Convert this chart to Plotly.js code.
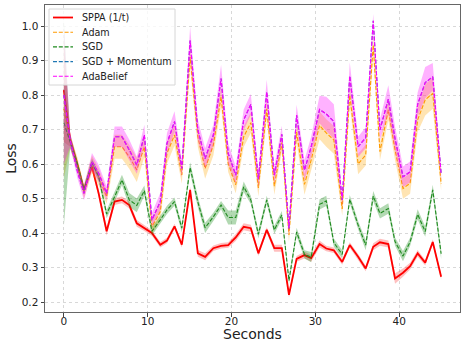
<!DOCTYPE html>
<html>
<head>
<meta charset="utf-8">
<script src="https://cdn.plot.ly/plotly-3.0.1.min.js"></script>
<style>html,body{margin:0;padding:0;background:#fff;}#chart{width:461px;height:341px;}</style>
</head>
<body>
<div id="chart"></div>
<script>
// Time stamps (seconds)
const seconds = [0, 0.75, 1.6, 2.4, 3.35, 4.15, 5.1, 6.05, 6.93, 7.8, 8.7, 9.6, 10.5, 11.5, 12.3, 13.2, 14.07, 15.06, 15.98, 16.85, 17.83, 18.75, 19.6, 20.5, 21.45, 22.3, 23.2, 24.2, 25.1, 26.0, 26.85, 27.76, 28.7, 29.5, 30.5, 31.3, 32.2, 33.2, 34.1, 35.1, 36.0, 36.9, 37.7, 38.7, 39.5, 40.45, 41.3, 42.2, 43.1, 44.0, 45.0];

// Mean losses
const sppa = [0.814, 0.67, 0.60, 0.525, 0.592, 0.515, 0.405, 0.491, 0.496, 0.481, 0.428, 0.414, 0.400, 0.366, 0.378, 0.419, 0.366, 0.525, 0.341, 0.331, 0.356, 0.363, 0.365, 0.387, 0.418, 0.414, 0.341, 0.409, 0.356, 0.356, 0.221, 0.325, 0.336, 0.327, 0.368, 0.355, 0.350, 0.316, 0.365, 0.331, 0.297, 0.360, 0.373, 0.368, 0.268, 0.285, 0.304, 0.341, 0.314, 0.374, 0.273];
const adam = [0.76, 0.665, 0.60, 0.52, 0.60, 0.563, 0.505, 0.65, 0.65, 0.621, 0.583, 0.65, 0.418, 0.462, 0.631, 0.684, 0.568, 0.91, 0.679, 0.587, 0.655, 0.795, 0.602, 0.54, 0.679, 0.72, 0.531, 0.76, 0.536, 0.662, 0.394, 0.693, 0.541, 0.612, 0.712, 0.69, 0.67, 0.47, 0.80, 0.60, 0.626, 0.945, 0.636, 0.757, 0.641, 0.529, 0.544, 0.728, 0.786, 0.805, 0.543];
const sgd = [0.72, 0.665, 0.60, 0.525, 0.605, 0.563, 0.455, 0.505, 0.554, 0.496, 0.48, 0.523, 0.405, 0.438, 0.467, 0.491, 0.414, 0.59, 0.49, 0.415, 0.447, 0.481, 0.445, 0.445, 0.534, 0.496, 0.396, 0.496, 0.409, 0.452, 0.262, 0.403, 0.338, 0.33, 0.483, 0.493, 0.372, 0.338, 0.498, 0.423, 0.365, 0.507, 0.457, 0.471, 0.375, 0.333, 0.374, 0.454, 0.404, 0.525, 0.34];
const adabelief = [0.80, 0.67, 0.58, 0.515, 0.607, 0.573, 0.515, 0.679, 0.679, 0.641, 0.597, 0.684, 0.438, 0.491, 0.66, 0.723, 0.587, 0.958, 0.699, 0.616, 0.684, 0.848, 0.631, 0.568, 0.728, 0.773, 0.556, 0.809, 0.568, 0.686, 0.413, 0.742, 0.582, 0.65, 0.758, 0.745, 0.723, 0.496, 0.855, 0.65, 0.676, 1.015, 0.699, 0.788, 0.674, 0.563, 0.577, 0.773, 0.836, 0.853, 0.572];
const sgdMomentum = [0.80, 0.67, 0.58, 0.515, 0.607, 0.573, 0.515, 0.679, 0.679, 0.641, 0.597, 0.684, 0.438, 0.491, 0.66, 0.723, 0.587, 0.958, 0.699, 0.616, 0.684, 0.848, 0.631, 0.568, 0.728, 0.773, 0.556, 0.809, 0.568, 0.686, 0.413, 0.742, 0.582, 0.65, 0.758, 0.745, 0.723, 0.496, 0.855, 0.65, 0.676, 1.015, 0.699, 0.788, 0.674, 0.563, 0.577, 0.773, 0.836, 0.853, 0.572];

// Standard deviations (shaded bands)
const sppaStd = [0.15, 0.02, 0.012, 0.012, 0.01, 0.012, 0.012, 0.01, 0.01, 0.01, 0.01, 0.008, 0.008, 0.008, 0.008, 0.008, 0.008, 0.01, 0.01, 0.01, 0.008, 0.008, 0.008, 0.01, 0.01, 0.01, 0.008, 0.008, 0.01, 0.01, 0.008, 0.008, 0.01, 0.01, 0.01, 0.008, 0.008, 0.008, 0.008, 0.008, 0.008, 0.01, 0.01, 0.01, 0.015, 0.012, 0.01, 0.01, 0.008, 0.008, 0.008];
const adamStd = [0.2, 0.02, 0.02, 0.02, 0.025, 0.025, 0.02, 0.035, 0.035, 0.035, 0.035, 0.03, 0.02, 0.025, 0.03, 0.03, 0.025, 0.03, 0.03, 0.03, 0.03, 0.03, 0.025, 0.025, 0.03, 0.03, 0.025, 0.03, 0.025, 0.025, 0.02, 0.03, 0.03, 0.03, 0.04, 0.04, 0.04, 0.02, 0.03, 0.03, 0.03, 0.03, 0.025, 0.03, 0.03, 0.03, 0.03, 0.035, 0.045, 0.045, 0.02];
const sgdStd = [0.3, 0.02, 0.012, 0.012, 0.012, 0.012, 0.012, 0.015, 0.015, 0.02, 0.02, 0.015, 0.012, 0.012, 0.012, 0.012, 0.012, 0.015, 0.015, 0.015, 0.012, 0.012, 0.02, 0.02, 0.015, 0.012, 0.012, 0.012, 0.012, 0.012, 0.01, 0.012, 0.012, 0.015, 0.015, 0.015, 0.012, 0.012, 0.012, 0.012, 0.015, 0.015, 0.015, 0.015, 0.012, 0.015, 0.012, 0.015, 0.015, 0.015, 0.015];
const adabeliefStd = [0.2, 0.02, 0.02, 0.02, 0.025, 0.025, 0.02, 0.03, 0.03, 0.03, 0.025, 0.03, 0.02, 0.025, 0.03, 0.03, 0.025, 0.04, 0.03, 0.03, 0.03, 0.04, 0.03, 0.025, 0.03, 0.03, 0.025, 0.035, 0.025, 0.025, 0.02, 0.03, 0.03, 0.03, 0.04, 0.05, 0.05, 0.02, 0.04, 0.03, 0.03, 0.02, 0.03, 0.04, 0.035, 0.03, 0.03, 0.035, 0.045, 0.04, 0.02];

const seriesNames = ['SPPA (1/t)', 'Adam', 'SGD', 'SGD + Momentum', 'AdaBelief'];
const xTicks = [0, 10, 20, 30, 40];
const yTicks = [0.2, 0.3, 0.4, 0.5, 0.6, 0.7, 0.8, 0.9, 1.0];
const xTitle = 'Seconds';
const yTitle = 'Loss';

const colors = ['#ff0000', '#ff9a00', '#1f8a1f', '#1f77b4', '#ff00ff'];
const dsh = '4px,1.8px';
const widths = [1.8, 1.1, 1.1, 1.1, 1.1];
const dashes = ['solid', dsh, dsh, dsh, dsh];

function band(mean, std, fill) {
  const up = mean.map((v, i) => v + std[i]);
  const lo = mean.map((v, i) => v - std[i]).reverse();
  return {
    x: seconds.concat(seconds.slice().reverse()),
    y: up.concat(lo),
    type: 'scatter', mode: 'lines', fill: 'toself',
    fillcolor: fill, line: {width: 0, color: 'rgba(0,0,0,0)'},
    showlegend: false, hoverinfo: 'skip'
  };
}
function line(mean, k) {
  return {x: seconds, y: mean, type: 'scatter', mode: 'lines', name: seriesNames[k],
    showlegend: false, line: {color: colors[k], width: widths[k], dash: dashes[k]}};
}
const traces = [
  band(sppa, sppaStd, 'rgba(255,0,0,0.25)'),
  line(sppa, 0),
  band(adam, adamStd, 'rgba(255,165,0,0.3)'),
  line(adam, 1),
  band(sgd, sgdStd, 'rgba(0,128,0,0.3)'),
  line(sgd, 2),
  line(sgdMomentum, 3),
  band(adabelief, adabeliefStd, 'rgba(255,0,255,0.3)'),
  line(adabelief, 4)
];

const font = 'DejaVu Sans, sans-serif';
// Legend box drawn in plot-area fractions (matplotlib-style, upper left)
const PL = 45, PW = 415, PT = 5, PH = 307;
const px2x = p => (p - PL) / PW;
const py2y = p => (PT + PH - p) / PH;
const shapes = [{type: 'rect', xref: 'paper', yref: 'paper', layer: 'above',
  x0: px2x(49), x1: px2x(175), y0: py2y(85), y1: py2y(9),
  fillcolor: 'rgba(255,255,255,0.8)', line: {color: '#d6d6d6', width: 1}}];
const annotations = [];
seriesNames.forEach((nm, k) => {
  const yy = py2y(17.5 + k * 14.7);
  shapes.push({type: 'line', xref: 'paper', yref: 'paper', layer: 'above',
    x0: px2x(53), x1: px2x(73), y0: yy, y1: yy,
    line: {color: colors[k], width: widths[k], dash: dashes[k]}});
  annotations.push({xref: 'paper', yref: 'paper', x: px2x(80), y: yy,
    xanchor: 'left', yanchor: 'middle', showarrow: false, text: nm,
    font: {family: font, size: 9.6, color: '#222'}});
});
// x-axis title placed below the tick labels
annotations.push({xref: 'paper', yref: 'paper', x: 0.5, y: py2y(334),
  xanchor: 'center', yanchor: 'middle', showarrow: false, text: xTitle,
  font: {family: font, size: 14, color: '#222'}});

const layout = {
  width: 461, height: 341,
  margin: {l: PL, r: 1, t: PT, b: 29, pad: 0},
  paper_bgcolor: '#fff', plot_bgcolor: '#fff',
  font: {family: font, color: '#222', size: 10.5},
  showlegend: false,
  shapes: shapes, annotations: annotations,
  xaxis: {range: [-2.25, 47.25], tickvals: xTicks, ticktext: xTicks.map(String),
    showgrid: true, gridcolor: '#d8d8d8', griddash: 'dot', gridwidth: 1,
    zeroline: false, showline: true, mirror: true, linecolor: '#666', linewidth: 1,
    ticks: 'outside', ticklen: 3.5, tickwidth: 1, tickcolor: '#444',
    ticklabelstandoff: -4,
    tickfont: {family: font, size: 10.5, color: '#222'}},
  yaxis: {range: [0.171, 1.061], tickvals: yTicks, ticktext: yTicks.map(v => v.toFixed(1)),
    showgrid: true, gridcolor: '#d8d8d8', griddash: 'dot', gridwidth: 1,
    zeroline: false, showline: true, mirror: true, linecolor: '#666', linewidth: 1,
    ticks: 'outside', ticklen: 3.5, tickwidth: 1, tickcolor: '#444',
    tickfont: {family: font, size: 10.5, color: '#222'},
    title: {text: yTitle, font: {family: font, size: 14, color: '#222'}, standoff: 1}}
};
Plotly.newPlot('chart', traces, layout, {staticPlot: true, displayModeBar: false});
</script>
</body>
</html>
